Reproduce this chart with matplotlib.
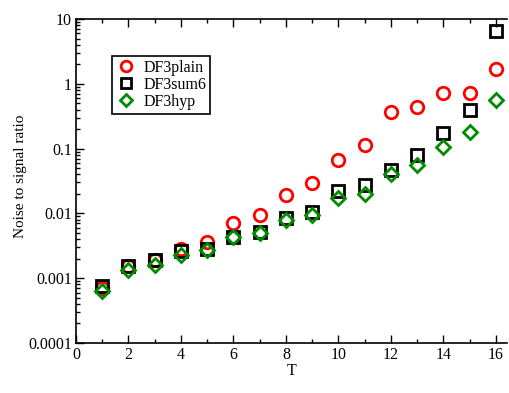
import numpy as np
import matplotlib
matplotlib.use('Agg')
import matplotlib.pyplot as plt
from matplotlib.ticker import LogLocator, MultipleLocator, FixedFormatter, FixedLocator

plt.rcParams['font.family'] = ['Liberation Serif', 'DejaVu Serif']

T = [1, 2, 3, 4, 5, 6, 7, 8, 9, 10, 11, 12, 13, 14, 15, 16]
plain = [0.0007, 0.00155, 0.0019, 0.0028, 0.0036, 0.0070, 0.0096, 0.019, 0.029,
         0.066, 0.114, 0.37, 0.44, 0.72, 0.72, 1.69]
sum6 = [0.00076, 0.00155, 0.0019, 0.0026, 0.0028, 0.0044, 0.0052, 0.0085, 0.0105,
        0.022, 0.027, 0.046, 0.080, 0.173, 0.40, 6.6]
hyp = [0.00064, 0.00135, 0.0016, 0.0023, 0.0027, 0.0044, 0.0050, 0.0080, 0.0096,
       0.0172, 0.020, 0.040, 0.055, 0.107, 0.18, 0.57]

ytick_vals = [0.0001, 0.001, 0.01, 0.1, 1, 10]
ytick_labels = ['0.0001', '0.001', '0.01', '0.1', '1', '10']

fig = plt.figure(figsize=(5.09, 3.93), dpi=100)
ax = fig.add_axes([76/509, 1-343/393, 431/509, 324/393])

ax.plot(T, plain, 'o', mfc='none', mec='#ff0000', mew=2, ms=9, label='DF3plain')
ax.plot(T, sum6, 's', mfc='none', mec='black', mew=2, ms=8, label='DF3sum6')
ax.plot(T, hyp, 'D', mfc='none', mec='#008b00', mew=2, ms=7, label='DF3hyp')

ax.set_yscale('log')
ax.set_ylim(0.0001, 10)
ax.set_xlim(0, 16.42)

ax.xaxis.set_major_locator(MultipleLocator(2))
ax.xaxis.set_minor_locator(MultipleLocator(1))
ax.yaxis.set_major_locator(FixedLocator(ytick_vals))
ax.yaxis.set_major_formatter(FixedFormatter(ytick_labels))
ax.yaxis.set_minor_locator(LogLocator(base=10, subs=np.arange(2, 10)))
ax.yaxis.set_minor_formatter(plt.NullFormatter())

ax.tick_params(which='both', direction='in', top=True, right=False, labelsize=11.5, width=1)
ax.tick_params(which='major', length=6, pad=3)
ax.tick_params(which='minor', length=3)
for s in ax.spines.values():
    s.set_linewidth(1.2)
ax.spines['right'].set_visible(False)

ax.set_xlabel('T', fontsize=11.5, labelpad=0)
ax.set_ylabel('Noise to signal ratio', fontsize=11, labelpad=1)
ax.yaxis.label.set_y(0.515)

leg = ax.legend(loc='upper left', bbox_to_anchor=(28/431, 1-29/324), fontsize=11.5,
                frameon=True, fancybox=False, edgecolor='black', framealpha=1,
                handletextpad=0.5, borderpad=0.25, labelspacing=0.05, handlelength=1.2,
                markerscale=0.85)
leg.get_frame().set_linewidth(1.2)

plt.savefig('out.png', dpi=100)
